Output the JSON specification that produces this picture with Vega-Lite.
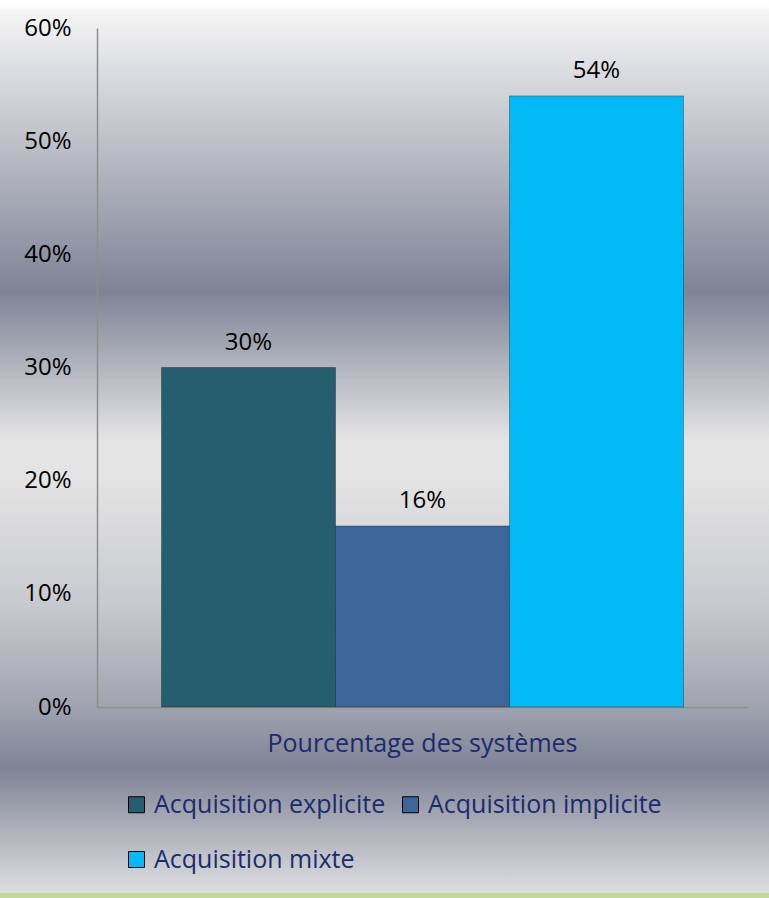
{
  "$schema": "https://vega.github.io/schema/vega-lite/v6.json",
  "width": 769,
  "height": 898,
  "autosize": {"type": "none"},
  "padding": 0,
  "background": "#FFFFFF",
  "config": {
    "font": "Open Sans",
    "view": {
      "stroke": null,
      "fill": {
        "gradient": "linear", "x1": 0, "y1": 0, "x2": 0, "y2": 1,
        "stops": [
          {"offset": 0, "color": "#FFFFFF"},
          {"offset": 0.008, "color": "#FFFFFF"},
          {"offset": 0.01, "color": "#F6F6F6"},
          {"offset": 0.325, "color": "#7F8396"},
          {"offset": 0.49, "color": "#E4E4E4"},
          {"offset": 0.53, "color": "#E4E4E4"},
          {"offset": 0.67, "color": "#C9CAD0"},
          {"offset": 0.78, "color": "#A3A6B2"},
          {"offset": 0.855, "color": "#7F8396"},
          {"offset": 0.994, "color": "#DDDEE0"},
          {"offset": 0.995, "color": "#C4D79C"},
          {"offset": 1, "color": "#C4D79C"}
        ]
      }
    }
  },
  "data": {
    "values": [
      {"categorie": "Pourcentage des systèmes", "type": "Acquisition explicite", "pct": 0.30},
      {"categorie": "Pourcentage des systèmes", "type": "Acquisition implicite", "pct": 0.16},
      {"categorie": "Pourcentage des systèmes", "type": "Acquisition mixte", "pct": 0.54}
    ]
  },
  "encoding": {
    "x": {
      "field": "categorie", "type": "nominal",
      "scale": {"range": [97, 748], "paddingInner": 0, "paddingOuter": 0.1236},
      "axis": {
        "orient": "bottom", "offset": -191, "title": null, "ticks": false, "tickSize": 0,
        "labelPadding": 24, "labelFontSize": 25, "labelColor": "#1A2C6B", "labelAngle": 0,
        "labelLimit": 0, "labelFont": "Open Sans", "domainColor": "#8E8E8E", "domainWidth": 1.5, "grid": false
      }
    },
    "xOffset": {"field": "type", "type": "nominal", "scale": {"paddingInner": 0, "paddingOuter": 0}},
    "y": {
      "field": "pct", "type": "quantitative",
      "scale": {"domain": [0, 0.6], "range": [707, 28], "nice": false},
      "axis": {
        "orient": "left", "offset": -97, "title": null, "ticks": false, "tickSize": 0,
        "values": [0, 0.1, 0.2, 0.3, 0.4, 0.5, 0.6], "format": ".0%",
        "labelPadding": 26, "labelFontSize": 24, "labelColor": "#000000", "labelFont": "Open Sans",
        "domainColor": "#8E8E8E", "domainWidth": 1.5, "grid": false
      }
    }
  },
  "layer": [
    {
      "mark": {"type": "bar", "stroke": "#000000", "strokeOpacity": 0.3, "strokeWidth": 1},
      "encoding": {
        "color": {
          "field": "type", "type": "nominal",
          "scale": {
            "domain": ["Acquisition explicite", "Acquisition implicite", "Acquisition mixte"],
            "range": ["#255E6E", "#3C6699", "#02BAF5"]
          },
          "legend": {
            "orient": "none", "legendX": 124, "legendY": 792, "direction": "horizontal", "columns": 2,
            "title": null, "symbolType": "square", "symbolSize": 256, "symbolStrokeWidth": 1,
            "labelFontSize": 25, "labelColor": "#1A2C6B", "labelFont": "Open Sans",
            "columnPadding": 12, "rowPadding": 29, "labelOffset": 5, "labelLimit": 0, "padding": 0
          }
        }
      }
    },
    {
      "mark": {"type": "text", "baseline": "alphabetic", "dy": -18, "fontSize": 24, "color": "#000000"},
      "encoding": {
        "text": {"field": "pct", "type": "quantitative", "format": ".0%"}
      }
    }
  ]
}
